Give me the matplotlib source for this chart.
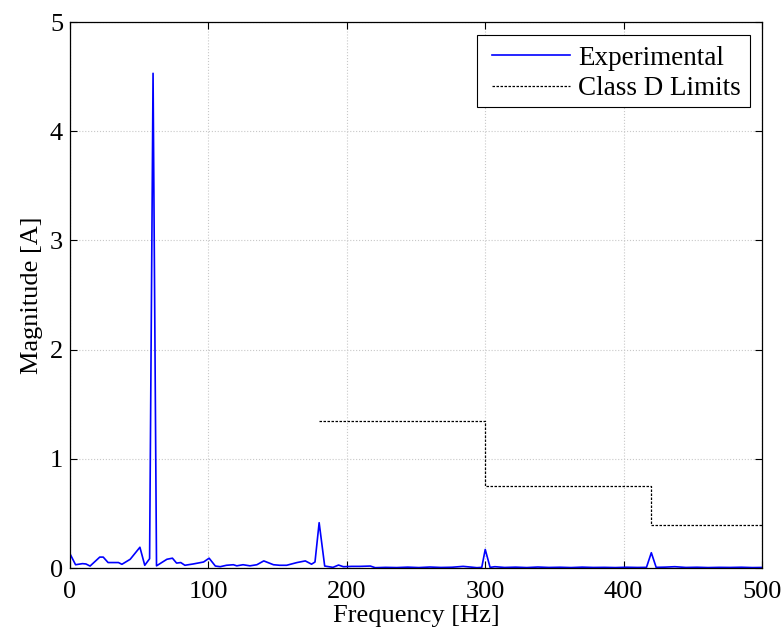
import matplotlib
matplotlib.use("Agg")
import matplotlib.pyplot as plt
from matplotlib.patches import Rectangle

plt.rcParams['font.family'] = ['Liberation Serif', 'DejaVu Serif']
plt.rcParams['mathtext.fontset'] = 'stix'

# Measured spectrum (Hz, A)
freq = [0, 4, 9, 11.5, 14.5, 21.5, 24, 27.5, 35, 37.5, 43.5, 50.5, 54, 57.5, 60, 62.5,
        70, 74, 77, 80, 83, 89, 96.5, 100.5, 105, 108.5, 113, 118, 120.5, 125, 130,
        135, 140, 147, 151.5, 156.5, 164, 170, 174.5, 177, 180, 184, 190, 194, 197.5,
        203.5, 209.5, 217, 220.5, 228, 236, 244, 252, 260, 268, 276, 284, 290, 294,
        297.5, 300, 303.5, 307, 314, 322, 330, 338, 346, 354, 362, 370, 378, 386,
        394, 402, 410, 416.5, 420, 423.5, 430, 437, 445, 453, 461, 469, 477, 485,
        493, 500]
mag = [0.13, 0.03, 0.04, 0.037, 0.018, 0.10, 0.10, 0.05, 0.05, 0.034, 0.08, 0.19,
       0.025, 0.085, 4.53, 0.02, 0.08, 0.09, 0.045, 0.05, 0.025, 0.037, 0.055, 0.09,
       0.018, 0.012, 0.025, 0.03, 0.02, 0.03, 0.02, 0.03, 0.065, 0.03, 0.025, 0.025,
       0.05, 0.065, 0.035, 0.055, 0.415, 0.018, 0.006, 0.027, 0.012, 0.015, 0.015,
       0.018, 0.003, 0.006, 0.004, 0.008, 0.004, 0.009, 0.005, 0.007, 0.015, 0.008,
       0.003, 0.006, 0.17, 0.006, 0.012, 0.005, 0.008, 0.004, 0.009, 0.005, 0.007,
       0.004, 0.008, 0.005, 0.006, 0.004, 0.007, 0.005, 0.006, 0.14, 0.006, 0.008,
       0.012, 0.005, 0.007, 0.004, 0.006, 0.005, 0.007, 0.004, 0.005]

# Class D limits (step)
lim_freq = [180, 300, 420, 500]
lim_mag = [1.35, 0.75, 0.39, 0.39]

FS = 19
LFS = 19.5

fig = plt.figure(figsize=(7.84, 6.36), dpi=100)
ax = fig.add_axes([0.0893, 0.1069, 0.8827, 0.8585])

ax.plot(freq, mag, color='#0000ff', lw=1.2, label='Experimental')
ax.plot(lim_freq, lim_mag, color='black', lw=0.9, ls=(0, (2, 1.2)),
        drawstyle='steps-post', label='Class D Limits')

ax.set_xlim(0, 500)
ax.set_ylim(0, 5)
ax.set_xticks([0, 100, 200, 300, 400, 500])
ax.set_yticks([0, 1, 2, 3, 4, 5])
ax.grid(True, color='#c8c8c8', ls=':', lw=0.8)
ax.tick_params(direction='in', top=True, right=True, labelsize=FS, length=5,
               width=0.8)
ax.tick_params(axis='y', pad=5)
ax.tick_params(axis='x', pad=9)
for s in ax.spines.values():
    s.set_linewidth(0.9)
ax.set_xlabel('Frequency [Hz]', fontsize=FS, labelpad=2)
ax.set_ylabel('Magnitude [A]', fontsize=FS, labelpad=5)

# legend box drawn separately (MATLAB-style padding)
box = Rectangle((0.588, 0.8443), 0.9827 - 0.588, 0.9762 - 0.8443,
                transform=ax.transAxes, facecolor='white', edgecolor='black',
                lw=0.8, zorder=5)
ax.add_patch(box)
leg = ax.legend(loc='upper left', bbox_to_anchor=(0.6098, 0.9566),
                borderaxespad=0, fontsize=LFS, frameon=False, borderpad=0,
                handlelength=2.89, handletextpad=0.3, labelspacing=0.21)
leg.set_zorder(6)

fig.savefig('out.png', dpi=100)
